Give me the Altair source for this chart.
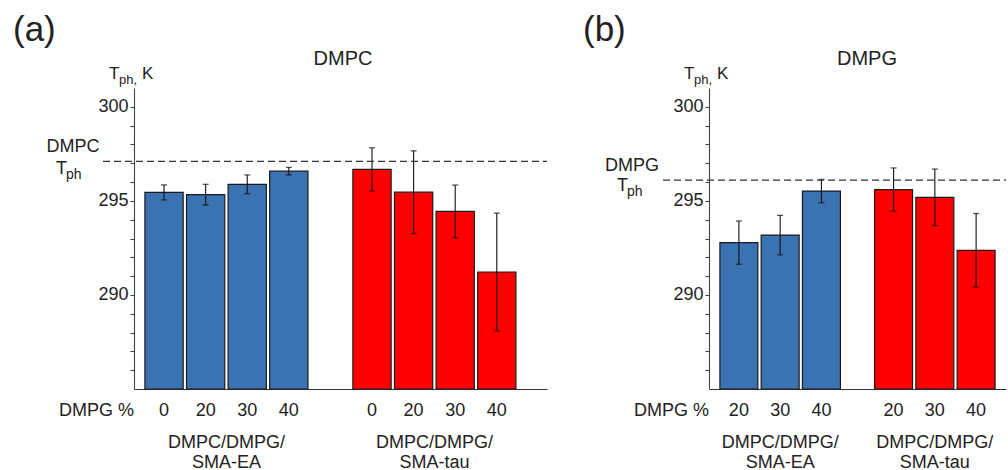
import altair as alt
import pandas as pd

FONT = "Liberation Sans"
BLUE = "#3b72b2"
RED = "#ff0000"
INK = "#222222"

# ---------------- data ----------------
groups = ["SMA-EA", "SMA-tau"]
group_labels = ["DMPC/DMPG/\nSMA-EA", "DMPC/DMPG/\nSMA-tau"]

# panel (a): DMPC
a_pct = ["0", "20", "30", "40"]
a_ea_mean = [295.45, 295.33, 295.88, 296.58]
a_ea_err = [0.40, 0.55, 0.50, 0.20]
a_tau_mean = [296.67, 295.46, 294.44, 291.22]
a_tau_err = [1.15, 2.20, 1.40, 3.13]
dmpc_tph = 297.1

# panel (b): DMPG
b_pct = ["20", "30", "40"]
b_ea_mean = [292.78, 293.18, 295.52]
b_ea_err = [1.15, 1.05, 0.62]
b_tau_mean = [295.60, 295.19, 292.37]
b_tau_err = [1.15, 1.50, 1.96]
dmpg_tph = 296.1

y_tick_values = [286, 287, 288, 289, 290, 291, 292, 293, 294, 295, 296, 297, 298, 299, 300]
y_domain = [285, 301]

H = 301


def make_df(pct, ea_mean, ea_err, tau_mean, tau_err):
    rows = []
    for p, m, e in zip(pct, ea_mean, ea_err):
        rows.append({"group": groups[0], "pct": p, "mean": m, "lo": m - e, "hi": m + e})
    for p, m, e in zip(pct, tau_mean, tau_err):
        rows.append({"group": groups[1], "pct": p, "mean": m, "lo": m - e, "hi": m + e})
    return pd.DataFrame(rows)


def one(text):
    return alt.Chart(pd.DataFrame({"t": [text]}))


y_scale = alt.Scale(domain=y_domain, zero=False, nice=False)
y_axis = alt.Axis(values=y_tick_values,
                  labelExpr="datum.value % 5 == 0 ? datum.label : ''",
                  tickSize=4, labelPadding=2, labelFontSize=18, labelColor=INK,
                  domainColor="#444444", tickColor="#444444", title=None, grid=False,
                  labelOverlap=False, domainWidth=1.1, tickWidth=1.1)


def Y(field):
    return alt.Y(field, type="quantitative", scale=y_scale, axis=y_axis, stack=None)


def panel(df, pct, W, xpad, title, title_x, letter, letter_x, tph, tph_name,
          side_x, side_t_x, side_t_dy, dash_x1):
    pi, po, al = xpad
    x_enc = alt.X("group:N",
                  scale=alt.Scale(domain=groups, paddingInner=pi, paddingOuter=po, align=al),
                  axis=alt.Axis(labels=False, ticks=False, title=None, grid=False,
                                domainColor="#333333", domainWidth=1.2))
    xo_enc = alt.XOffset("pct:N", scale=alt.Scale(domain=pct, paddingInner=0.08, paddingOuter=0))

    base = alt.Chart(df)
    bars = base.mark_bar(stroke="#1a1a1a", strokeWidth=1.2).encode(
        x=x_enc, xOffset=xo_enc,
        y=Y("mean"), y2=alt.datum(y_domain[0]),
        color=alt.Color("group:N", scale=alt.Scale(domain=groups, range=[BLUE, RED]), legend=None),
    )
    err = base.mark_rule(color="#111111", strokeWidth=1.1).encode(
        x=x_enc, xOffset=xo_enc, y=Y("lo"), y2="hi:Q")
    cap_hi = base.mark_tick(color="#111111", thickness=1.3, size=6, orient="horizontal").encode(
        x=x_enc, xOffset=xo_enc, y=Y("hi"))
    cap_lo = base.mark_tick(color="#111111", thickness=1.3, size=6, orient="horizontal").encode(
        x=x_enc, xOffset=xo_enc, y=Y("lo"))
    pct_lab = base.mark_text(fontSize=18, color=INK, baseline="alphabetic").encode(
        x=x_enc, xOffset=xo_enc, y=alt.value(H + 27), text="pct:N")

    gdf = pd.DataFrame({"group": groups, "label": group_labels})
    grp_lab = alt.Chart(gdf).mark_text(fontSize=18, color=INK, baseline="alphabetic",
                                       lineBreak="\n", lineHeight=20).encode(
        x=x_enc, y=alt.value(H + 59), text="label:N")

    tdf = pd.DataFrame({"tph": [tph]})
    dash = alt.Chart(tdf).mark_rule(color="#333333", strokeWidth=1.2, strokeDash=[7, 4]).encode(
        y=Y("tph"), x=alt.value(dash_x1), x2=alt.value(W))
    side1 = alt.Chart(tdf).mark_text(fontSize=18, color=INK, align="center", baseline="alphabetic",
                                     dy=-9, text=tph_name).encode(
        x=alt.value(side_x), y=Y("tph"))
    side2 = alt.Chart(tdf).mark_text(fontSize=18, color=INK, align="left", baseline="alphabetic",
                                     dy=side_t_dy, text="T").encode(
        x=alt.value(side_t_x), y=Y("tph"))
    side3 = alt.Chart(tdf).mark_text(fontSize=14, color=INK, align="left", baseline="alphabetic",
                                     dy=side_t_dy + 5, text="ph").encode(
        x=alt.value(side_t_x + 10), y=Y("tph"))

    ttl = one(title).mark_text(fontSize=20, color=INK, align="center", baseline="alphabetic").encode(
        x=alt.value(title_x), y=alt.value(-23), text="t:N")
    let = one(letter).mark_text(fontSize=35, color=INK, align="left", baseline="alphabetic").encode(
        x=alt.value(letter_x), y=alt.value(-47), text="t:N")
    yt1 = one("T").mark_text(fontSize=17, color=INK, align="left", baseline="alphabetic").encode(
        x=alt.value(-25), y=alt.value(-9), text="t:N")
    yt2 = one("ph,").mark_text(fontSize=13, color=INK, align="left", baseline="alphabetic").encode(
        x=alt.value(-15), y=alt.value(-4), text="t:N")
    yt3 = one("K").mark_text(fontSize=17, color=INK, align="left", baseline="alphabetic").encode(
        x=alt.value(8), y=alt.value(-9), text="t:N")
    pc = one("DMPG %").mark_text(fontSize=18, color=INK, align="right", baseline="alphabetic").encode(
        x=alt.value(0), y=alt.value(H + 27), text="t:N")

    return alt.layer(bars, err, cap_hi, cap_lo, dash, pct_lab, grp_lab, side1, side2, side3,
                     ttl, let, yt1, yt2, yt3, pc).properties(width=W, height=H)


dfa = make_df(a_pct, a_ea_mean, a_ea_err, a_tau_mean, a_tau_err)
dfb = make_df(b_pct, b_ea_mean, b_ea_err, b_tau_mean, b_tau_err)

pa = panel(dfa, a_pct, 413, (0.216, 0.101, 0.26), "DMPC", 209, "(a)", -121, dmpc_tph, "DMPC",
           -61, -78, 13, -31)
pb = panel(dfb, b_pct, 297, (0.221, 0.0705, 0.5), "DMPG", 158, "(b)", -126, dmpg_tph, "DMPG",
           -77, -92, 11, -46)

chart = alt.hconcat(pa, pb, spacing=162, bounds="flush").resolve_scale(
    x="independent", y="independent", xOffset="independent", color="independent"
).resolve_axis(x="independent", y="independent").properties(
    padding={"left": 13, "top": 13, "right": 0, "bottom": 0},
    background="white",
).configure(font=FONT).configure_view(stroke=None)

chart.save("out.html", embed_options={"renderer": "svg", "actions": False})
